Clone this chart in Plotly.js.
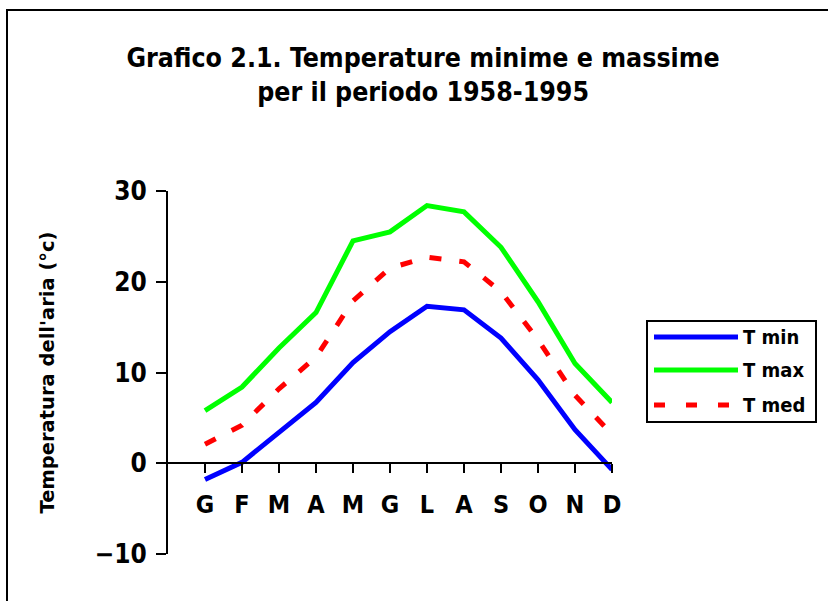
<!DOCTYPE html>
<html>
<head>
<meta charset="utf-8">
<script src="https://cdn.plot.ly/plotly-3.0.1.min.js"></script>
<style>
  html, body { margin: 0; padding: 0; background: #ffffff; }
  #chart { width: 828px; height: 601px; }
</style>
</head>
<body>
<div id="chart"></div>
<script>
// ---- data ----
const months = ['G', 'F', 'M', 'A', 'M', 'G', 'L', 'A', 'S', 'O', 'N', 'D'];
const tMin = [-1.8, 0.1, 3.4, 6.7, 11.1, 14.5, 17.3, 16.9, 13.8, 9.2, 3.7, -0.7];
const tMax = [5.8, 8.4, 12.7, 16.6, 24.5, 25.5, 28.4, 27.7, 23.8, 17.8, 11.0, 6.7];
const tMed = [2.1, 4.2, 8.2, 11.7, 17.9, 21.5, 22.7, 22.2, 18.9, 13.6, 7.5, 3.2];
const seriesNames = ['T min', 'T max', 'T med'];
const yTicks = [-10, 0, 10, 20, 30];
const titleText = 'Grafico 2.1. Temperature minime e massime<br>per il periodo 1958-1995';
const yTitleText = "Temperatura dell'aria (°c)";

// ---- styles / geometry ----
const idx = months.map((m, i) => i);
const condBold = '"DejaVu Sans Condensed", "DejaVu Sans", sans-serif';
const wideBold = '"DejaVu Sans", sans-serif';
const styles = [
  { color: '#0000ff', width: 5, dash: 'solid' },
  { color: '#00ff00', width: 5, dash: 'solid' },
  { color: '#ff0000', width: 5, dash: '12px,18px' }
];
const L = 168, T = 191, W = 444, H = 363;
const px = v => (v - L) / W;
const py = v => (T + H - v) / H;

const values = [tMin, tMax, tMed];
const traces = values.map((vals, i) => ({
  type: 'scatter', mode: 'lines', x: idx, y: vals, name: seriesNames[i],
  line: { color: styles[i].color, width: styles[i].width, dash: styles[i].dash },
  showlegend: false, hoverinfo: 'skip', xaxis: 'x', yaxis: 'y'
}));

// outer frame (left and top edges visible; right/bottom lie beyond the page)
const frameLine = { color: '#000', width: 2 };
const shapes = [
  { type: 'line', xref: 'paper', yref: 'paper', x0: px(7), x1: px(7), y0: py(9), y1: py(640), line: frameLine },
  { type: 'line', xref: 'paper', yref: 'paper', x0: px(6), x1: px(860), y0: py(10), y1: py(10), line: frameLine },
  // legend box
  { type: 'rect', xref: 'paper', yref: 'paper', x0: px(647), x1: px(816), y0: py(321), y1: py(422),
    line: { color: '#000', width: 2 }, fillcolor: '#ffffff' }
];
const legendY = [337, 370, 405];
const annotations = [];
seriesNames.forEach((n, i) => {
  shapes.push({ type: 'line', xref: 'paper', yref: 'paper', x0: px(654), x1: px(738), y0: py(legendY[i]), y1: py(legendY[i]),
    line: { color: styles[i].color, width: styles[i].width, dash: i === 2 ? '11px,21px' : 'solid' } });
  annotations.push({ xref: 'paper', yref: 'paper', x: px(741), y: py(legendY[i]), text: n, showarrow: false,
    xanchor: 'left', yanchor: 'middle', font: { family: condBold, size: 20, weight: 'bold', color: '#000' } });
});

const tickFont = { family: condBold, size: 26, weight: 'bold', color: '#000' };
const xTickFont = { family: condBold, size: 25, weight: 'bold', color: '#000' };
const zeroPos = (0 - yTicks[0]) / (yTicks[yTicks.length - 1] - yTicks[0]);

const layout = {
  width: 828, height: 601,
  margin: { l: L, r: 828 - L - W, t: T, b: 601 - T - H, pad: 0 },
  paper_bgcolor: '#ffffff', plot_bgcolor: 'rgba(0,0,0,0)',
  title: { text: titleText, xref: 'container', x: 0.511, yref: 'container', y: 1 - 67 / 601, yanchor: 'top',
    font: { family: condBold, size: 26.5, weight: 'bold', color: '#000' } },
  showlegend: false,
  xaxis: { range: [-1, 11], domain: [0, 1], anchor: 'free', position: zeroPos,
    showline: true, linecolor: '#000', linewidth: 2, showgrid: false, zeroline: false,
    tickmode: 'array', tickvals: idx, ticktext: months, ticks: 'outside', ticklen: 9, tickwidth: 2, tickcolor: '#000',
    tickfont: xTickFont, ticklabelstandoff: 10, fixedrange: true },
  xaxis2: { range: [-1, 11], overlaying: 'x', anchor: 'free', position: zeroPos,
    showline: false, showgrid: false, zeroline: false, showticklabels: false,
    tickmode: 'array', tickvals: idx, ticks: 'inside', ticklen: 9, tickwidth: 2, tickcolor: '#000' },
  yaxis: { range: [yTicks[0], yTicks[yTicks.length - 1]], domain: [0, 1], anchor: 'x',
    showline: true, linecolor: '#000', linewidth: 2, showgrid: false, zeroline: false,
    tickmode: 'array', tickvals: yTicks, ticks: 'outside', ticklen: 10, tickwidth: 2, tickcolor: '#000',
    tickfont: tickFont, ticklabelstandoff: 4,
    title: { text: yTitleText, standoff: 35, font: { family: wideBold, size: 19.5, weight: 'bold', color: '#000' } },
    automargin: false },
  yaxis2: { range: [yTicks[0], yTicks[yTicks.length - 1]], overlaying: 'y', side: 'left', anchor: 'x',
    showline: false, showgrid: false, zeroline: false, showticklabels: false,
    tickmode: 'array', tickvals: yTicks, ticks: 'inside', ticklen: 10, tickwidth: 2, tickcolor: '#000' },
  shapes: shapes,
  annotations: annotations
};

Plotly.newPlot('chart', traces, layout, { staticPlot: true, displayModeBar: false });
</script>
</body>
</html>
